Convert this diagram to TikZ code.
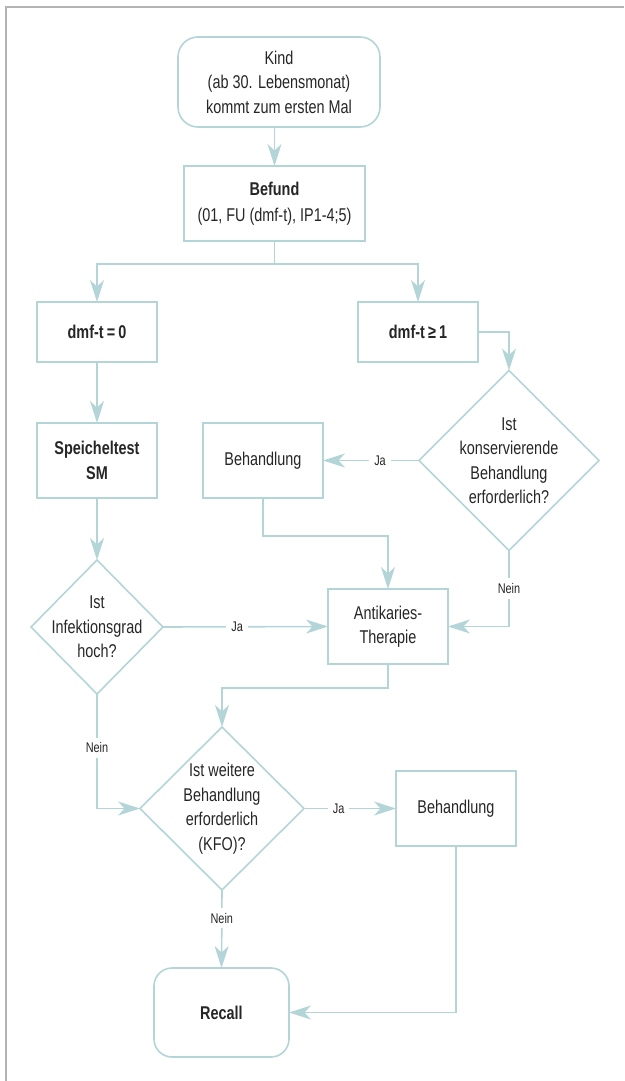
\documentclass[tikz,border=0pt]{standalone}
\usepackage{fontspec}
\setmainfont{Liberation Sans}[FakeStretch=0.78]
\usetikzlibrary{shapes.geometric,arrows.meta}
\definecolor{ln}{HTML}{B3D5D7}
\definecolor{tx}{HTML}{262626}
\definecolor{fr}{HTML}{B4B4B4}
\newcommand\mainfnt{\fontsize{18.5}{24.5}\selectfont}
\newcommand\lblfnt{\fontsize{14}{16}\selectfont}
\tikzset{
  box/.style={draw=ln, line width=1.6pt, fill=white, text=tx, align=center, inner sep=0pt, outer sep=0pt, font=\mainfnt},
  rbox/.style={box, rounded corners=20pt},
  dia/.style={draw=ln, line width=1.6pt, diamond, inner sep=0pt, outer sep=0pt},
  txt/.style={text=tx, align=center, font=\mainfnt},
  con/.style={draw=ln, line width=1.6pt},
  arr/.style={con, -{Stealth[length=22pt,width=14pt,inset=6.5pt]}},
  lbl/.style={fill=white, text=tx, font=\lblfnt, inner sep=5pt}
}
\begin{document}
\begin{tikzpicture}[x=1pt,y=-1pt]
\useasboundingbox (0,0) rectangle (624,1081);
\draw[fr, line width=2pt] (6,1081) -- (6,7) -- (624,7);
% nodes
\node[rbox, minimum width=202pt, minimum height=90pt] (start) at (279,82) {Kind\\(ab 30. Lebensmonat)\\kommt zum ersten Mal};
\node[box, minimum width=181pt, minimum height=75pt] (befund) at (274.5,203.5) {\textbf{Befund}\\[2pt](01, FU (dmf-t), IP1-4;5)};
\node[box, minimum width=120pt, minimum height=60pt] (d0) at (97,332) {\textbf{dmf-t\,=\,0}};
\node[box, minimum width=120pt, minimum height=60pt] (d1) at (418,332) {\textbf{dmf-t\,≥\,1}};
\node[box, minimum width=120pt, minimum height=75pt] (speichel) at (97,460.5) {\textbf{Speicheltest}\\\textbf{SM}};
\node[dia, minimum width=180pt, minimum height=180pt] (q1) at (509,460.5) {};
\node[txt] (q1t) at (q1) {Ist\\konservierende\\Behandlung\\erforderlich?};
\node[box, minimum width=120pt, minimum height=75pt] (beh1) at (263,460.5) {Behandlung};
\node[dia, minimum width=132pt, minimum height=134pt] (q2) at (97,627) {};
\node[txt] (q2t) at (q2) {Ist\\Infektionsgrad\\hoch?};
\node[box, minimum width=120pt, minimum height=75pt] (anti) at (388,626.5) {Antikaries-\\Therapie};
\node[dia, minimum width=164pt, minimum height=163pt] (q3) at (222,808.5) {};
\node[txt] (q3t) at (q3) {Ist weitere\\Behandlung\\erforderlich\\(KFO)?};
\node[box, minimum width=120pt, minimum height=75pt] (beh2) at (456,808.5) {Behandlung};
\node[rbox, rounded corners=18pt, minimum width=135pt, minimum height=89pt] (recall) at (221.5,1012.5) {\textbf{Recall}};
% connectors
\draw[arr] (befund.north |- start.south) -- (befund.north);
\draw[arr] (befund.south) -- ++(0,23) -| (d0.north);
\draw[arr] (befund.south) -- ++(0,23) -| (d1.north);
\draw[arr] (d1.east) -| (q1.north);
\draw[arr] (d0.south) -- (speichel.north);
\draw[arr] (speichel.south) -- (q2.north);
\draw[arr] (q1.west) -- node[lbl, pos=0.406] {Ja} (beh1.east);
\draw[arr] (beh1.south) -- ++(0,38) -| (anti.north);
\draw[arr] (q2.east) -- node[lbl, pos=0.45] {Ja} (anti.west);
\draw[arr] (q1.south) |- node[lbl, pos=0.25] {Nein} (anti.east);
\draw[arr] (anti.south) -- ++(0,24) -| (q3.north);
\draw[arr] (q2.south) |- node[lbl, pos=0.235] {Nein} (q3.west);
\draw[arr] (q3.east) -- node[lbl, pos=0.376] {Ja} (beh2.west);
\draw[arr] (q3.south) -- node[lbl, pos=0.36] {Nein} (recall.north);
\draw[arr] (beh2.south) |- (recall.east);
\end{tikzpicture}
\end{document}
